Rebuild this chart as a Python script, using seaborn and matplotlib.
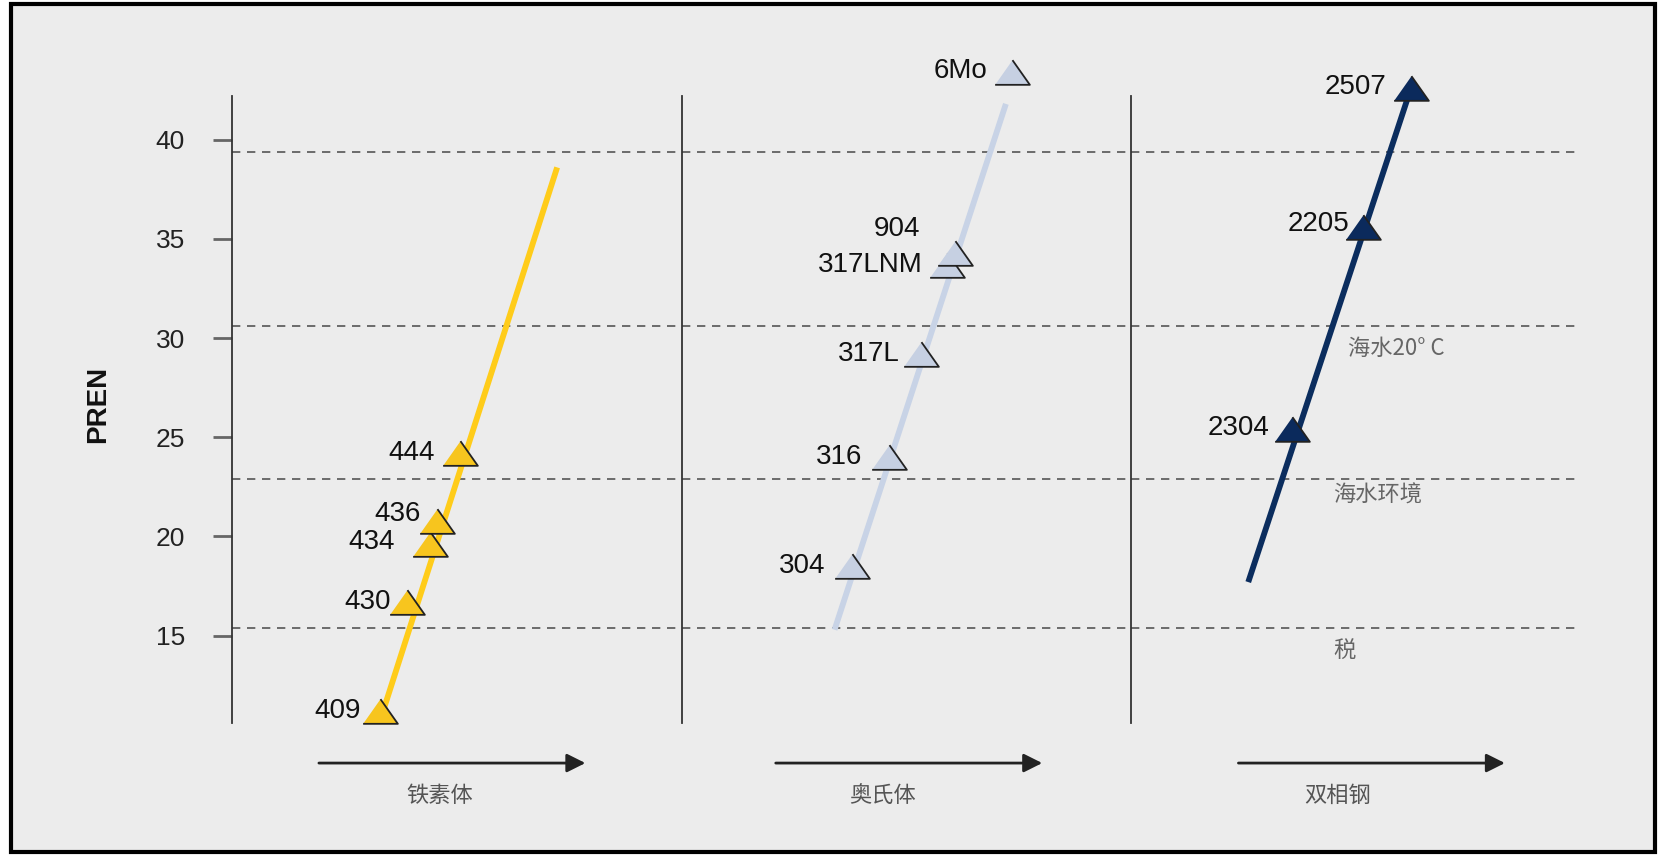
import matplotlib.pyplot as plt
import seaborn as sns
import pandas as pd
from matplotlib.patches import Rectangle

# ---- data ----
ferrite_grades = ["409", "430", "434", "436", "444"]
ferrite_x = [3.29, 3.90, 4.40, 4.56, 5.06]
ferrite_pren = [11.2, 16.7, 19.6, 20.8, 24.2]
ferrite_trend_x = [3.36, 7.23]
ferrite_trend_pren = [11.2, 38.6]

austenite_grades = ["304", "316", "317L", "317LNM", "904", "6Mo"]
austenite_x = [3.78, 4.61, 5.32, 5.89, 6.08, 7.35]
austenite_pren = [18.5, 24.0, 29.2, 33.7, 34.3, 43.4]
austenite_trend_x = [3.40, 7.21]
austenite_trend_pren = [15.3, 41.8]

duplex_grades = ["2304", "2205", "2507"]
duplex_x = [3.57, 5.15, 6.22]
duplex_pren = [25.4, 35.6, 42.6]
duplex_trend_x = [2.60, 6.22]
duplex_trend_pren = [17.7, 42.6]

family_names = ["铁素体", "奥氏体", "双相钢"]
threshold_pren = [39.4, 30.6, 22.9, 15.4]
environment_labels = ["海水20° C", "海水环境", "税"]
environment_x = [4.82, 4.49, 4.50]
environment_pren = [29.5, 22.1, 14.25]
y_ticks = [15, 20, 25, 30, 35, 40]

# ---- styling / layout ----
sns.set_theme(style="white")
plt.rcParams["font.family"] = ["Liberation Sans", "Noto Sans CJK SC", "DejaVu Sans"]
cjk = ["Noto Sans CJK SC", "DejaVu Sans"]

fills = ["#F7C51E", "#C6D0E2", "#0B2A5C"]
line_colors = ["#FFCC1A", "#C8D3E6", "#0B2D5E"]
# label nudges (points) for each grade label
nudges = {
    "409": (-14, 0), "430": (-12, 0), "434": (-25, 2), "436": (-12, 5), "444": (-18, 0),
    "304": (-19, 0), "316": (-19, 0), "317L": (-15, 0), "317LNM": (-17, 0),
    "904": (-25, 17), "6Mo": (-18, 1),
    "2304": (-16, 1), "2205": (-10, 2), "2507": (-18, 1),
}
arrow_start = [1.87, 2.03, 2.32]
arrow_len = 6.05
label_x = [4.61, 4.47, 4.59]

tri = [(-1, -0.71), (1, -0.71), (0, 0.71)]

fig, axes = plt.subplots(1, 3, figsize=(16.67, 8.56), dpi=100, sharey=True)
fig.patch.set_facecolor("white")
plt.subplots_adjust(left=0.1392, right=0.9484, bottom=0.1554, top=0.8879, wspace=0)
fig.add_artist(Rectangle((0.0066, 0.0047), 0.9862, 0.9903, transform=fig.transFigure,
                         facecolor="#ececec", edgecolor="black", lw=3, zorder=-1))

groups = [
    (ferrite_grades, ferrite_x, ferrite_pren, ferrite_trend_x, ferrite_trend_pren),
    (austenite_grades, austenite_x, austenite_pren, austenite_trend_x, austenite_trend_pren),
    (duplex_grades, duplex_x, duplex_pren, duplex_trend_x, duplex_trend_pren),
]

for i, (ax, (grades, xs, pren, tx, ty)) in enumerate(zip(axes, groups)):
    ax.set_facecolor("none")
    ax.set_xlim(0, 10)
    ax.set_ylim(10.6, 42.2)
    for s in ["top", "right", "bottom"]:
        ax.spines[s].set_visible(False)
    ax.spines["left"].set_color("#333333")
    ax.spines["left"].set_linewidth(1.3)
    ax.set_xticks([])
    ax.grid(False)

    for t in threshold_pren:
        ax.axhline(t, color="#555555", lw=1.2, ls=(0, (5, 4)), zorder=1)

    trend = pd.DataFrame({"x": tx, "PREN": ty})
    sns.lineplot(data=trend, x="x", y="PREN", ax=ax, color=line_colors[i], lw=4.2,
                 solid_capstyle="butt", zorder=2, sort=False)

    pts = pd.DataFrame({"x": xs, "PREN": pren, "grade": grades})
    sns.scatterplot(data=pts, x="x", y="PREN", ax=ax, marker=tri, s=625,
                    color=fills[i], edgecolor="#222222", linewidth=1.3,
                    clip_on=False, zorder=3, legend=False)
    for g, x, y in zip(grades, xs, pren):
        ax.annotate(g, (x, y), xytext=nudges[g], textcoords="offset points",
                    ha="right", va="center", fontsize=20, color="#111111",
                    annotation_clip=False)

    ax.annotate("", xy=(arrow_start[i] + arrow_len, 8.58), xytext=(arrow_start[i], 8.58),
                arrowprops=dict(arrowstyle="-|>", color="#222222", lw=2, mutation_scale=28),
                annotation_clip=False)
    ax.text(label_x[i], 6.97, family_names[i], ha="center", va="center",
            fontsize=16, color="#555555", family=cjk, clip_on=False)
    ax.set_xlabel("")
    ax.set_ylabel("")

for lab, x, y in zip(environment_labels, environment_x, environment_pren):
    axes[2].text(x, y, lab, ha="left", va="center", fontsize=16, color="#666666", family=cjk)

axes[0].set_yticks(y_ticks)
axes[0].tick_params(axis="y", left=True, length=14, width=2, color="#666666",
                    labelsize=19, pad=20, labelcolor="#222222")
for ax in axes[1:]:
    ax.tick_params(axis="y", left=False, labelleft=False)

fig.text(98 / 1667, 1 - 404 / 856, "PREN", rotation=90, ha="center", va="center",
         fontsize=20, fontweight="bold", color="#111111")

fig.savefig("out.png", dpi=100, facecolor=fig.get_facecolor())
